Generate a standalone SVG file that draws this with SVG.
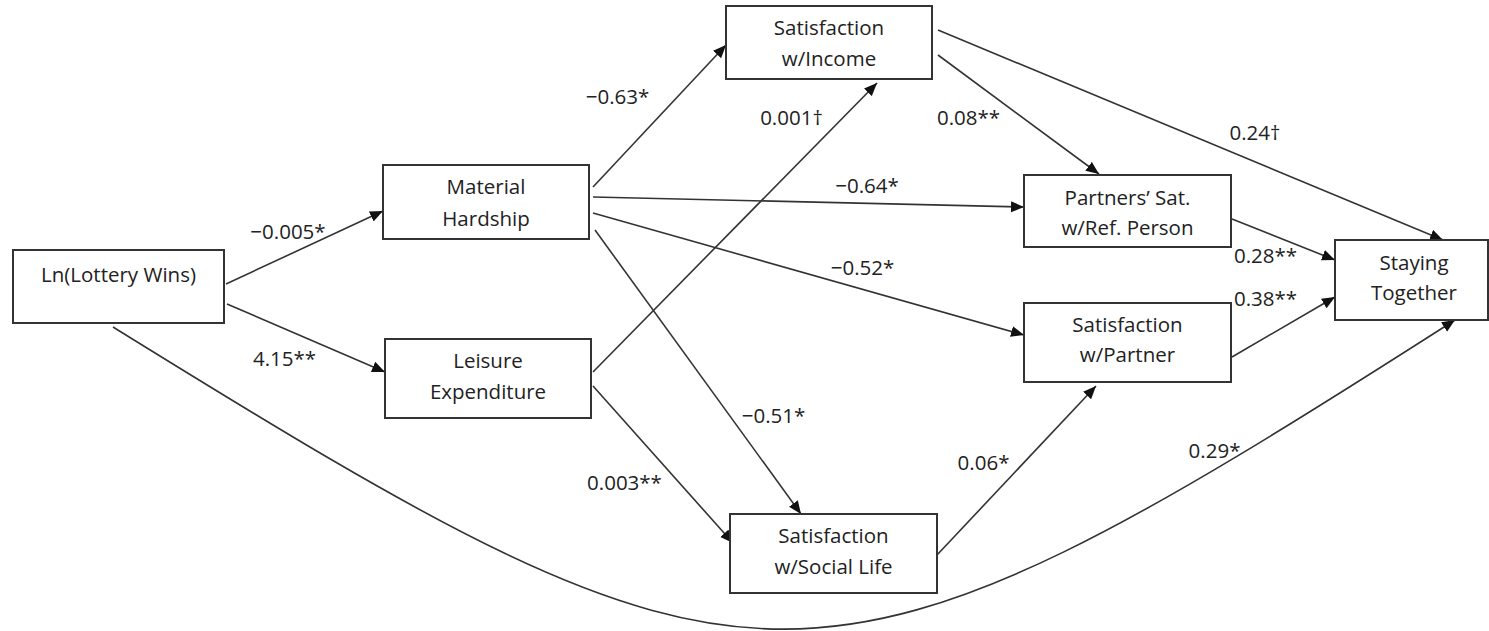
<svg xmlns="http://www.w3.org/2000/svg" width="1489" height="631" viewBox="0 0 1489 631">
<defs>
<style>
.box{fill:#fff;stroke:#333;stroke-width:2}
.t{font-family:"Open Sans","Liberation Sans",sans-serif;font-size:20.5px;fill:#222;text-anchor:middle}
.e{fill:none;stroke:#333;stroke-width:1.6;marker-end:url(#ah)}
</style>
<marker id="ah" markerUnits="userSpaceOnUse" markerWidth="14" markerHeight="12" refX="13" refY="6" orient="auto">
<path d="M0,0.5 L13,6 L0,11.5 z" fill="#111"/>
</marker>
</defs>
<rect width="1489" height="631" fill="#fff"/>
<g id="connectors">
<path class="e" d="M226,284 L383,211"/>
<path class="e" d="M227,304 L385,372"/>
<path class="e" d="M593,187 L726,45"/>
<path class="e" d="M593,197 L1024,207"/>
<path class="e" d="M593,213 L1024,335"/>
<path class="e" d="M595,230 L801,514"/>
<path class="e" d="M593,372 L877,83"/>
<path class="e" d="M593,386 L733,543"/>
<path class="e" d="M938,55 L1099,174"/>
<path class="e" d="M938,30 L1443,240"/>
<path class="e" d="M1232,219 L1335,260"/>
<path class="e" d="M1232,357 L1335,297"/>
<path class="e" d="M937,555 L1096,386"/>
<path class="e" d="M113,327 C760,728 808,734 1455,320"/>
</g>
<g id="labels">
<text class="t" x="288" y="239">−0.005*</text>
<text class="t" x="284.5" y="366">4.15**</text>
<text class="t" x="617.5" y="104">−0.63*</text>
<text class="t" x="791.5" y="125">0.001†</text>
<text class="t" x="968.5" y="125">0.08**</text>
<text class="t" x="1255" y="140">0.24†</text>
<text class="t" x="867" y="193">−0.64*</text>
<text class="t" x="862.5" y="275">−0.52*</text>
<text class="t" x="1265.5" y="263">0.28**</text>
<text class="t" x="1265.5" y="306">0.38**</text>
<text class="t" x="773.5" y="423">−0.51*</text>
<text class="t" x="624.5" y="490">0.003**</text>
<text class="t" x="983.5" y="470">0.06*</text>
<text class="t" x="1214.5" y="458">0.29*</text>
</g>
<g id="n-lottery">
<rect class="box" x="13" y="250" width="211" height="73"/>
<text class="t" x="118.5" y="282">Ln(Lottery Wins)</text>
</g>
<g id="n-hardship">
<rect class="box" x="383" y="165" width="206" height="74"/>
<text class="t" x="486" y="194">Material</text>
<text class="t" x="486" y="226">Hardship</text>
</g>
<g id="n-leisure">
<rect class="box" x="385" y="339" width="206" height="79"/>
<text class="t" x="488" y="368">Leisure</text>
<text class="t" x="488" y="399">Expenditure</text>
</g>
<g id="n-income">
<rect class="box" x="726" y="6" width="206" height="73"/>
<text class="t" x="829" y="35">Satisfaction</text>
<text class="t" x="829" y="66">w/Income</text>
</g>
<g id="n-partners">
<rect class="box" x="1024" y="175" width="207" height="72"/>
<text class="t" x="1127.5" y="205">Partners’ Sat.</text>
<text class="t" x="1127.5" y="235">w/Ref. Person</text>
</g>
<g id="n-partner">
<rect class="box" x="1024" y="303" width="207" height="79"/>
<text class="t" x="1127.5" y="332">Satisfaction</text>
<text class="t" x="1127.5" y="362">w/Partner</text>
</g>
<g id="n-social">
<rect class="box" x="730" y="514" width="207" height="79"/>
<text class="t" x="833.5" y="543">Satisfaction</text>
<text class="t" x="833.5" y="574">w/Social Life</text>
</g>
<g id="n-staying">
<rect class="box" x="1335" y="240" width="153" height="80"/>
<text class="t" x="1414" y="270">Staying</text>
<text class="t" x="1414" y="300">Together</text>
</g>
</svg>
